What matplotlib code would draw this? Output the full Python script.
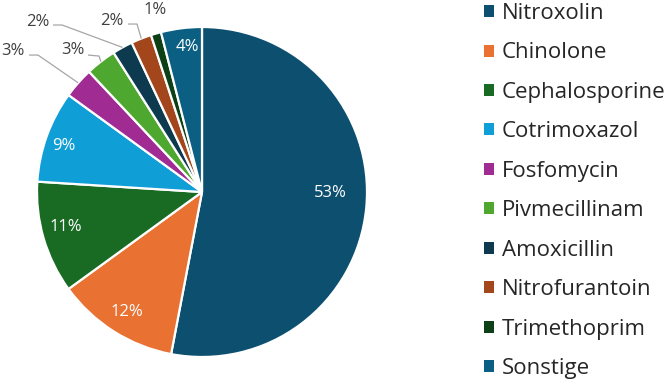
import matplotlib
matplotlib.use("Agg")
import matplotlib.pyplot as plt
import numpy as np

plt.rcParams['font.family'] = ['Open Sans', 'DejaVu Sans']

# ---- data ----
categories = ["Nitroxolin", "Chinolone", "Cephalosporine", "Cotrimoxazol", "Fosfomycin",
              "Pivmecillinam", "Amoxicillin", "Nitrofurantoin", "Trimethoprim", "Sonstige"]
values = [53, 12, 11, 9, 3, 3, 2, 2, 1, 4]
colors = ["#0D4F6F", "#E97132", "#196B24", "#0F9ED5", "#A02B93",
          "#4EA72E", "#0D3A4E", "#A3461C", "#0E4018", "#0B5F82"]

# ---- layout (label positions in pie-radius units) ----
inside_pos = {0: (0.776, -0.006), 1: (-0.455, -0.727), 2: (-0.824, -0.212),
              3: (-0.836, 0.279), 9: (-0.091, 0.879)}
outside_pos = {4: (-1.145, 0.855), 5: (-0.782, 0.861), 6: (-0.994, 1.030),
               7: (-0.545, 1.036), 8: (-0.285, 1.103)}
# leader lines: (start, elbow) in radius units, end is wedge mid-point at rim
leaders = {4: ((-1.048, 0.830), (-0.994, 0.830)),
           5: ((-0.691, 0.830), (-0.624, 0.824)),
           6: ((-0.903, 1.012), (-0.848, 1.012)),
           7: ((-0.448, 1.018), (-0.394, 1.018))}

W, H = 669, 382
fig = plt.figure(figsize=(W / 100, H / 100), dpi=100)
cx, cy, r = 202, 192, 165
ax = fig.add_axes([(cx - r) / W, (H - cy - r) / H, 2 * r / W, 2 * r / H])

wedges, _ = ax.pie(values, colors=colors, startangle=90, counterclock=False, radius=1,
                   wedgeprops=dict(edgecolor='white', linewidth=1.6))
ax.set_xlim(-1, 1)
ax.set_ylim(-1, 1)
ax.set_aspect('equal')
ax.axis('off')

total = sum(values)
for i, w in enumerate(wedges):
    pct = f"{round(values[i] / total * 100)}%"
    if i in inside_pos:
        x, y = inside_pos[i]
        ax.text(x, y, pct, ha='center', va='center', color='white', fontsize=12,
                clip_on=False)
    else:
        x, y = outside_pos[i]
        ax.text(x, y, pct, ha='center', va='center', color='#404040', fontsize=12,
                clip_on=False)
    if i in leaders:
        mid = np.deg2rad((w.theta1 + w.theta2) / 2)
        end = (np.cos(mid) * 1.0, np.sin(mid) * 1.0)
        (x0, y0), (x1, y1) = leaders[i]
        ax.plot([x0, x1, end[0]], [y0, y1, end[1]], color='#A6A6A6', lw=0.9,
                clip_on=False, solid_capstyle='butt')

leg = fig.legend(wedges, categories, loc='upper left', bbox_to_anchor=(484 / W, 1 - 3 / H),
                 frameon=False, handlelength=0.45, handleheight=0.45, handletextpad=0.36,
                 labelspacing=0.83, borderpad=0, borderaxespad=0,
                 prop=dict(size=16), labelcolor='#262626')
for h in leg.legend_handles:
    h.set_linewidth(0)

fig.savefig("out.png", dpi=100)
